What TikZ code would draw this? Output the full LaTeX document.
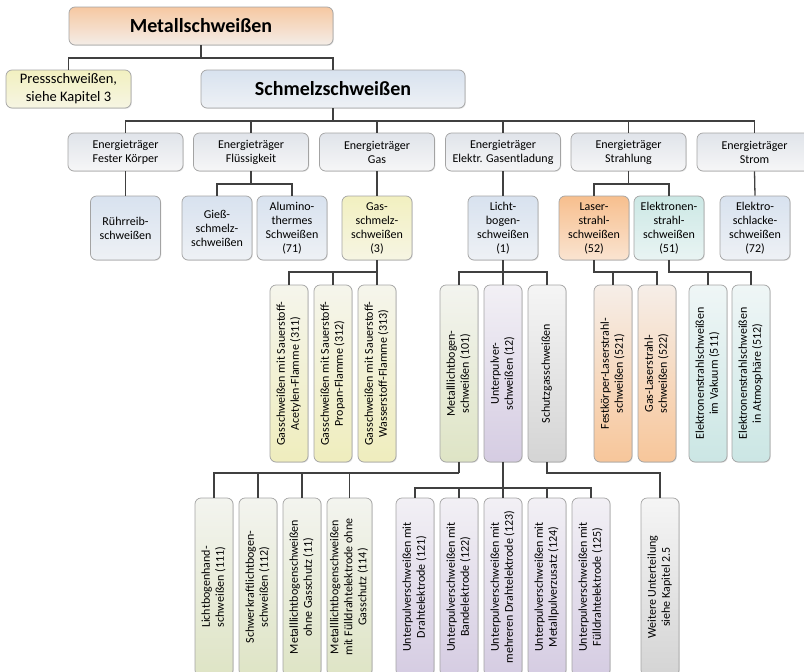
\documentclass[tikz,border=0pt]{standalone}
\usepackage{fontspec}
\setmainfont{Carlito}
\usetikzlibrary{shadows}
\definecolor{boxborder}{HTML}{A3A3A3}
\definecolor{linkcol}{HTML}{404040}
% upper rows: coloured top -> light bottom
\definecolor{orUt}{HTML}{F6C8A2}\definecolor{orUb}{HTML}{F4EDE7}
\definecolor{laUt}{HTML}{F7BF8E}\definecolor{laUb}{HTML}{FAE4D1}
\definecolor{yeUt}{HTML}{F2F0C0}\definecolor{yeUb}{HTML}{F6F5E3}
\definecolor{blUt}{HTML}{D8E2EF}\definecolor{blUb}{HTML}{EEF1F5}
\definecolor{grUt}{HTML}{E0E4EA}\definecolor{grUb}{HTML}{F6F6F7}
\definecolor{teUt}{HTML}{CCE8E5}\definecolor{teUb}{HTML}{E9F4F3}
% lower rows: light top -> coloured bottom
\definecolor{orLt}{HTML}{F6EEE8}\definecolor{orLb}{HTML}{F7C69A}
\definecolor{yeLt}{HTML}{F5F5EC}\definecolor{yeLb}{HTML}{EFEDBD}
\definecolor{gnLt}{HTML}{F3F4EF}\definecolor{gnLb}{HTML}{DEE4C5}
\definecolor{puLt}{HTML}{F2F0F5}\definecolor{puLb}{HTML}{D5CCE2}
\definecolor{gyLt}{HTML}{F5F5F5}\definecolor{gyLb}{HTML}{D4D4D4}
\definecolor{teLt}{HTML}{EFF6F6}\definecolor{teLb}{HTML}{CBE6E4}
\newcommand{\vtext}[1]{\rotatebox{90}{\begin{tabular}{@{}c@{}}#1\end{tabular}}}
\begin{document}
\begin{tikzpicture}[x=1pt,y=-1pt,
  box/.style={draw=boxborder, line width=0.7pt, rounded corners=6pt, align=center,
    inner sep=0pt, font=\fontsize{12}{14}\selectfont,
    drop shadow={shadow xshift=0.8pt, shadow yshift=-0.8pt, opacity=0.22}},
  bigbox/.style={box, minimum width=264pt, minimum height=38pt,
    font=\fontsize{20}{24}\selectfont\bfseries},
  etbox/.style={box, minimum width=115pt, minimum height=38pt},
  midbox/.style={box, minimum width=70pt, minimum height=64pt},
  tallbox/.style={box, minimum width=38pt, minimum height=177pt},
  lowbox/.style={box, minimum width=38pt, minimum height=178pt},
  orU/.style={top color=orUt, bottom color=orUb},
  laU/.style={top color=laUt, bottom color=laUb},
  yeU/.style={top color=yeUt, bottom color=yeUb},
  blU/.style={top color=blUt, bottom color=blUb},
  grU/.style={top color=grUt, bottom color=grUb},
  teU/.style={top color=teUt, bottom color=teUb},
  orL/.style={top color=orLt, bottom color=orLb},
  yeL/.style={top color=yeLt, bottom color=yeLb},
  gnL/.style={top color=gnLt, bottom color=gnLb},
  puL/.style={top color=puLt, bottom color=puLb},
  gyL/.style={top color=gyLt, bottom color=gyLb},
  teL/.style={top color=teLt, bottom color=teLb},
  link/.style={draw=linkcol, line width=1.3pt}]
\useasboundingbox (0,0) rectangle (804,672);
\clip (0,0) rectangle (804,672);
% row 1
\node[bigbox, orU] (metall) at (201,26) {Metallschweißen};
\node[box, yeU, minimum width=125pt, minimum height=38pt, font=\fontsize{14.5}{18}\selectfont] (press) at (68.5,89) {Pressschweißen,\\siehe Kapitel 3};
\node[bigbox, blU] (schmelz) at (333,89) {Schmelzschweißen};
% row 2
\node[etbox, grU] (e1) at (125.5,152) {Energieträger\\Fester Körper};
\node[etbox, grU] (e2) at (251,152) {Energieträger\\Flüssigkeit};
\node[etbox, grU] (e3) at (377,152) {Energieträger\\Gas};
\node[etbox, grU] (e4) at (503,152) {Energieträger\\Elektr. Gasentladung};
\node[etbox, grU] (e5) at (628.5,152) {Energieträger\\Strahlung};
\node[etbox, grU] (e6) at (754.5,152) {Energieträger\\Strom};
% row 3
\node[midbox, blU] (ruehr) at (125.5,228) {Rührreib-\\schweißen};
\node[midbox, blU] (giess) at (217,228) {Gieß-\\schmelz-\\schweißen};
\node[midbox, blU] (alumino) at (292,228) {Alumino-\\thermes\\Schweißen\\(71)};
\node[midbox, yeU] (gasschm) at (377,228) {Gas-\\schmelz-\\schweißen\\(3)};
\node[midbox, blU] (licht) at (503,228) {Licht-\\bogen-\\schweißen\\(1)};
\node[midbox, laU] (laser) at (594,228) {Laser-\\strahl-\\schweißen\\(52)};
\node[midbox, teU] (elektronen) at (669,228) {Elektronen-\\strahl-\\schweißen\\(51)};
\node[midbox, blU] (schlacke) at (755,228) {Elektro-\\schlacke-\\schweißen\\(72)};
% row 4
\node[tallbox, yeL] (g311) at (289,373.5) {\vtext{Gasschweißen mit Sauerstoff-\\Acetylen-Flamme (311)}};
\node[tallbox, yeL] (g312) at (333,373.5) {\vtext{Gasschweißen mit Sauerstoff-\\Propan-Flamme (312)}};
\node[tallbox, yeL] (g313) at (377,373.5) {\vtext{Gasschweißen mit Sauerstoff-\\Wasserstoff-Flamme (313)}};
\node[tallbox, gnL] (m101) at (459,373.5) {\vtext{Metalllichtbogen-\\schweißen (101)}};
\node[tallbox, puL] (u12) at (503,373.5) {\vtext{Unterpulver-\\schweißen (12)}};
\node[tallbox, gyL] (sg) at (547,373.5) {\vtext{Schutzgasschweißen}};
\node[tallbox, orL] (l521) at (613,373.5) {\vtext{Festkörper-Laserstrahl-\\schweißen (521)}};
\node[tallbox, orL] (l522) at (657,373.5) {\vtext{Gas-Laserstrahl-\\schweißen (522)}};
\node[tallbox, teL] (e511) at (708,373.5) {\vtext{Elektronenstrahlschweißen\\im Vakuum (511)}};
\node[tallbox, teL] (e512) at (751,373.5) {\vtext{Elektronenstrahlschweißen\\in Atmosphäre (512)}};
% row 5
\node[lowbox, gnL] (m111) at (214,587) {\vtext{Lichtbogenhand-\\schweißen (111)}};
\node[lowbox, gnL] (m112) at (258,587) {\vtext{Schwerkraftlichtbogen-\\schweißen (112)}};
\node[lowbox, gnL] (m11) at (302,587) {\vtext{Metalllichtbogenschweißen\\ohne Gasschutz (11)}};
\node[lowbox, gnL, minimum width=45pt] (m114) at (349.5,587) {\vtext{Metalllichtbogenschweißen\\mit Fülldrahtelektrode ohne\\Gasschutz (114)}};
\node[lowbox, puL] (u121) at (415,587) {\vtext{Unterpulverschweißen mit\\Drahtelektrode (121)}};
\node[lowbox, puL] (u122) at (459,587) {\vtext{Unterpulverschweißen mit\\Bandelektrode (122)}};
\node[lowbox, puL] (u123) at (503,587) {\vtext{Unterpulverschweißen mit\\mehreren Drahtelektrode (123)}};
\node[lowbox, puL] (u124) at (547,587) {\vtext{Unterpulverschweißen mit\\Metallpulverzusatz (124)}};
\node[lowbox, puL] (u125) at (591,587) {\vtext{Unterpulverschweißen mit\\Fülldrahtelektrode (125)}};
\node[lowbox, gyL] (weitere) at (660,587) {\vtext{Weitere Unterteilung\\siehe Kapitel 2.5}};
% connectors
\coordinate (j0) at (201,58);
\draw[link] (metall.south) -- (j0);
\draw[link] (press.north) |- (j0) -| (schmelz.north);
\coordinate (j1) at (333,121);
\draw[link] (schmelz.south) -- (j1);
\draw[link] (e1.north) |- (j1) -| (e6.north);
\foreach \n in {e2,e3,e4,e5} \draw[link] (\n.north) -- (\n.north |- j1);
\draw[link] (e1.south) -- (ruehr.north);
\coordinate (j2) at (251,184);
\draw[link] (e2.south) -- (j2);
\draw[link] (giess.north) |- (j2) -| (alumino.north);
\draw[link] (e3.south) -- (gasschm.north);
\draw[link] (e4.south) -- (licht.north);
\coordinate (j3) at (628.5,184);
\draw[link] (e5.south) -- (j3);
\draw[link] (laser.north) |- (j3) -| (elektronen.north);
\draw[link] (e6.south) -- (schlacke.north);
\coordinate (j4) at (377,272);
\draw[link] (gasschm.south) -- (j4);
\draw[link] (g311.north) |- (j4) -- (g313.north);
\draw[link] (g312.north) -- (g312.north |- j4);
\coordinate (j5) at (503,272);
\draw[link] (licht.south) -- (j5) -- (u12.north);
\draw[link] (m101.north) |- (j5) -| (sg.north);
\coordinate (j6) at (594,272);
\draw[link] (laser.south) -- (j6) -| (l522.north);
\draw[link] (l521.north) -- (l521.north |- j6);
\coordinate (j7) at (669,272);
\draw[link] (elektronen.south) -- (j7) -| (e512.north);
\draw[link] (e511.north) -- (e511.north |- j7);
\coordinate (j8) at (459,473);
\draw[link] (m101.south) -- (j8);
\draw[link] (m111.north) |- (j8);
\foreach \n in {m112,m11,m114} \draw[link] (\n.north) -- (\n.north |- j8);
\coordinate (j9) at (503,488);
\draw[link] (u12.south) -- (j9);
\draw[link] (u121.north) |- (j9) -| (u125.north);
\foreach \n in {u122,u123,u124} \draw[link] (\n.north) -- (\n.north |- j9);
\coordinate (j10) at (547,473);
\draw[link] (sg.south) -- (j10) -| (weitere.north);
\end{tikzpicture}
\end{document}
